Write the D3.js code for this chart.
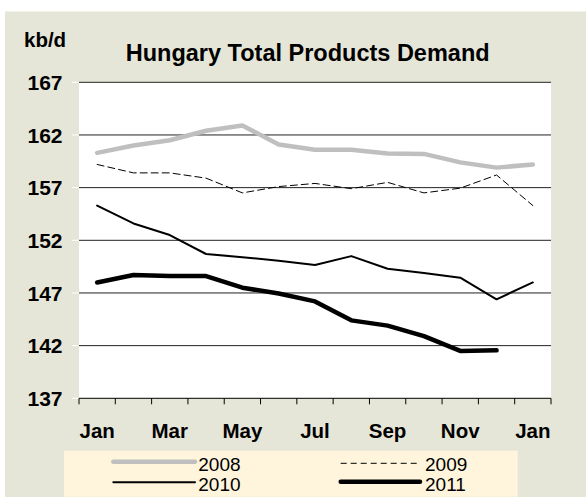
<!DOCTYPE html>
<html>
<head>
<meta charset="utf-8">
<script src="https://cdn.jsdelivr.net/npm/d3@7"></script>
<style>
  html, body { margin: 0; padding: 0; background: #fff; }
  svg { display: block; font-family: "Liberation Sans", Arial, sans-serif; }
</style>
</head>
<body>
<svg id="chart" width="586" height="500"></svg>
<script>
// ---- data ----
const months = ["Jan","Feb","Mar","Apr","May","Jun","Jul","Aug","Sep","Oct","Nov","Dec","Jan"];
const shownMonthLabels = ["Jan","Mar","May","Jul","Sep","Nov","Jan"];
const yTicks = [137, 142, 147, 152, 157, 162, 167];
const years = ["2008", "2009", "2010", "2011"];
const s2008 = [160.3, 161.0, 161.5, 162.4, 162.9, 161.1, 160.6, 160.6, 160.25, 160.2, 159.4, 158.9, 159.2];
const s2009 = [159.2, 158.4, 158.4, 157.9, 156.5, 157.1, 157.4, 156.9, 157.5, 156.5, 156.95, 158.2, 155.3];
const s2010 = [155.3, 153.6, 152.5, 150.7, 150.4, 150.05, 149.65, 150.5, 149.3, 148.9, 148.45, 146.4, 148.0];
const s2011 = [148.0, 148.7, 148.6, 148.6, 147.5, 146.95, 146.2, 144.4, 143.9, 142.9, 141.5, 141.55];

const seriesList = [
  { name: years[0], values: s2008, color: "#bfbfbf", width: 4.5, dash: null },
  { name: years[1], values: s2009, color: "#000000", width: 1, dash: "7,4" },
  { name: years[2], values: s2010, color: "#000000", width: 2, dash: null },
  { name: years[3], values: s2011, color: "#000000", width: 4.5, dash: null }
];

// ---- layout ----
const svg = d3.select("#chart");
const plot = { left: 79, right: 551, top: 82.3, bottom: 398.3 };

// background
svg.append("rect").attr("x", 5).attr("y", 11.5).attr("width", 581).attr("height", 485.5)
  .attr("fill", "#e6e6d8");
svg.append("rect").attr("x", plot.left).attr("y", plot.top)
  .attr("width", plot.right - plot.left).attr("height", plot.bottom - plot.top)
  .attr("fill", "#ffffff");

const x = d3.scaleBand().domain(d3.range(months.length)).range([plot.left, plot.right]).padding(0);
const y = d3.scaleLinear().domain([137, 167]).range([plot.bottom, plot.top]);

// gridlines
svg.append("g").selectAll("line").data(yTicks.filter(t => t > 137)).join("line")
  .attr("x1", plot.left).attr("x2", plot.right)
  .attr("y1", d => y(d)).attr("y2", d => y(d))
  .attr("stroke", "#222").attr("stroke-width", 1);

// y tick marks (white) and labels
svg.append("g").selectAll("line").data(yTicks).join("line")
  .attr("x1", 72).attr("x2", plot.left)
  .attr("y1", d => y(d)).attr("y2", d => y(d))
  .attr("stroke", "#ffffff").attr("stroke-width", 1);
svg.append("g").selectAll("text").data(yTicks).join("text")
  .attr("x", 62.5).attr("y", d => y(d) + 7.6)
  .attr("text-anchor", "end").attr("font-weight", "bold").attr("font-size", 21)
  .attr("fill", "#000").text(d => d);

// x axis line + ticks at band boundaries
const boundaries = d3.range(months.length + 1).map(i => plot.left + i * x.step());
svg.append("line").attr("x1", plot.left).attr("x2", plot.right)
  .attr("y1", plot.bottom).attr("y2", plot.bottom).attr("stroke", "#000").attr("stroke-width", 1);
svg.append("g").selectAll("line").data(boundaries).join("line")
  .attr("x1", d => d).attr("x2", d => d)
  .attr("y1", plot.bottom).attr("y2", plot.bottom + 6)
  .attr("stroke", "#000").attr("stroke-width", 1);

// x labels (every other month)
svg.append("g").selectAll("text").data(shownMonthLabels).join("text")
  .attr("x", (d, i) => x(i * 2) + x.bandwidth() / 2)
  .attr("y", 437.5)
  .attr("text-anchor", "middle").attr("font-weight", "bold").attr("font-size", 20.5)
  .attr("fill", "#000").text(d => d);

// lines
const line = d3.line().x((d, i) => x(i) + x.bandwidth() / 2).y(d => y(d));
svg.append("g").selectAll("path").data(seriesList).join("path")
  .attr("d", d => line(d.values))
  .attr("fill", "none")
  .attr("stroke", d => d.color)
  .attr("stroke-width", d => d.width)
  .attr("stroke-dasharray", d => d.dash)
  .attr("stroke-linejoin", "round")
  .attr("stroke-linecap", "round");

// title and unit
svg.append("text").attr("x", 307.7).attr("y", 60.7).attr("text-anchor", "middle")
  .attr("font-weight", "bold").attr("font-size", 23.5).attr("fill", "#000")
  .text("Hungary Total Products Demand");
svg.append("text").attr("x", 24).attr("y", 46.7).attr("text-anchor", "start")
  .attr("font-weight", "bold").attr("font-size", 20.5).attr("fill", "#000")
  .text("kb/d");

// legend
svg.append("rect").attr("x", 64).attr("y", 450.7).attr("width", 453.7).attr("height", 46)
  .attr("fill", "#fff5dc");
const legendPos = [
  { x1: 113.3, x2: 195, y: 461.7, tx: 198.3, ty: 470.5 },
  { x1: 340.7, x2: 420, y: 463.3, tx: 425, ty: 470.5 },
  { x1: 113.3, x2: 195, y: 482.3, tx: 198.3, ty: 490.5 },
  { x1: 340.7, x2: 420, y: 481.7, tx: 425, ty: 490.5 }
];
const lg = svg.append("g").selectAll("g").data(seriesList).join("g");
lg.append("line")
  .attr("x1", (d, i) => legendPos[i].x1).attr("x2", (d, i) => legendPos[i].x2)
  .attr("y1", (d, i) => legendPos[i].y).attr("y2", (d, i) => legendPos[i].y)
  .attr("stroke", d => d.color).attr("stroke-width", d => d.width)
  .attr("stroke-dasharray", d => d.dash ? "6,4" : null)
  .attr("stroke-linecap", d => d.dash ? "butt" : "round");
lg.append("text")
  .attr("x", (d, i) => legendPos[i].tx).attr("y", (d, i) => legendPos[i].ty)
  .attr("font-size", 19).attr("fill", "#000").text(d => d.name);
</script>
</body>
</html>
